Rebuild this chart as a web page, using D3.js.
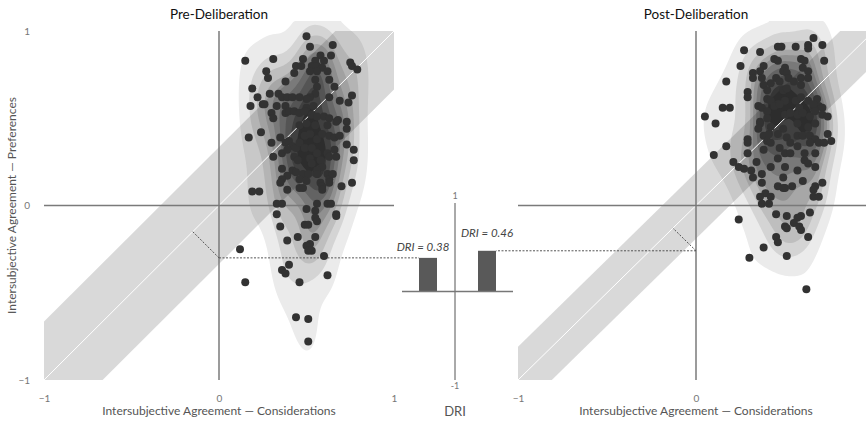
<!DOCTYPE html>
<html><head><meta charset="utf-8">
<script src="https://cdn.jsdelivr.net/npm/d3@7"></script>
<style>
html,body{margin:0;padding:0;background:#fff;}
svg{display:block;font-family:Lato,"Noto Sans",sans-serif;}
</style></head>
<body>
<script>
// ---------- data ----------
const panelTitles = ["Pre-Deliberation", "Post-Deliberation"];
const xAxisTitle = "Intersubjective Agreement — Considerations";
const yAxisTitle = "Intersubjective Agreement — Preferences";
const tickValues = [-1, 0, 1];
const driCategories = ["Pre", "Post"];
const driValues = [0.38, 0.46];
const bandHalfWidth = [0.335, 0.19];

const prePoints = [
[0.50,0.97],[0.52,0.91],[0.65,0.92],[0.15,0.83],[0.31,0.84],[0.58,0.86],[0.64,0.86],[0.55,0.83],[0.48,0.84],[0.60,0.83],
[0.75,0.82],[0.76,0.80],[0.79,0.78],[0.27,0.77],[0.28,0.73],[0.44,0.80],[0.47,0.80],[0.53,0.80],[0.56,0.80],[0.59,0.79],
[0.62,0.77],[0.43,0.76],[0.52,0.77],[0.56,0.77],[0.55,0.72],[0.38,0.71],[0.63,0.72],[0.66,0.68],[0.19,0.67],[0.56,0.68],
[0.55,0.64],[0.52,0.62],[0.50,0.61],[0.22,0.62],[0.25,0.58],[0.26,0.58],[0.18,0.57],[0.29,0.64],[0.34,0.64],[0.36,0.62],
[0.39,0.62],[0.42,0.62],[0.46,0.62],[0.63,0.62],[0.69,0.60],[0.74,0.59],[0.76,0.63],[0.50,0.56],[0.54,0.57],[0.33,0.57],
[0.38,0.57],[0.30,0.53],[0.38,0.53],[0.40,0.54],[0.43,0.54],[0.46,0.53],[0.49,0.54],[0.53,0.52],[0.56,0.51],[0.60,0.51],
[0.63,0.50],[0.68,0.49],[0.31,0.50],
[0.17,0.39],[0.24,0.42],[0.30,0.36],[0.35,0.39],[0.38,0.36],[0.40,0.37],[0.42,0.34],[0.44,0.33],[0.46,0.36],
[0.46,0.46],[0.50,0.47],[0.55,0.46],[0.62,0.46],[0.67,0.48],[0.73,0.48],
[0.49,0.40],[0.52,0.41],[0.56,0.38],[0.59,0.41],[0.63,0.40],[0.66,0.39],[0.69,0.40],[0.73,0.44],
[0.73,0.35],[0.77,0.32],
[0.49,0.33],[0.53,0.33],[0.56,0.30],[0.62,0.30],[0.66,0.32],[0.67,0.28],[0.63,0.28],
[0.31,0.28],[0.36,0.30],[0.39,0.32],[0.43,0.28],[0.45,0.26],
[0.52,0.27],[0.53,0.24],[0.58,0.26],[0.59,0.22],[0.56,0.20],
[0.77,0.26],[0.76,0.13],[0.70,0.11],
[0.36,0.21],[0.42,0.20],[0.39,0.17],[0.36,0.15],[0.44,0.19],[0.48,0.18],[0.51,0.18],[0.46,0.15],[0.50,0.14],
[0.56,0.18],[0.62,0.18],[0.63,0.15],[0.58,0.13],[0.59,0.11],[0.63,0.13],[0.65,0.18],
[0.35,0.13],[0.39,0.09],[0.46,0.10],[0.48,0.10],[0.59,0.09],
[0.19,0.08],[0.23,0.08],
[0.33,0.01],[0.36,0.01],[0.56,0.01],[0.62,0.01],[0.64,0.01],
[0.50,-0.02],[0.55,-0.03],[0.67,-0.05],[0.33,-0.05],
[0.55,-0.07],[0.56,-0.09],[0.67,-0.06],[0.35,-0.12],[0.49,-0.11],[0.51,-0.11],[0.39,-0.20],[0.45,-0.18],[0.55,-0.18],
[0.52,-0.22],[0.50,-0.23],[0.51,-0.26],[0.53,-0.26],[0.60,-0.29],[0.12,-0.25],[0.40,-0.34],[0.36,-0.37],[0.38,-0.39],
[0.15,-0.44],[0.46,-0.44],[0.62,-0.40],[0.44,-0.64],[0.51,-0.65],[0.51,-0.78]
];

const postPoints = [
[0.66,0.96],[0.63,0.92],[0.63,0.90],[0.71,0.92],[0.46,0.91],[0.48,0.91],[0.56,0.91],[0.27,0.89],[0.36,0.88],[0.72,0.83],
[0.44,0.84],[0.46,0.83],[0.59,0.84],[0.61,0.83],[0.25,0.80],[0.38,0.80],[0.50,0.79],[0.60,0.79],[0.63,0.77],[0.32,0.76],
[0.36,0.77],[0.49,0.77],[0.51,0.76],[0.32,0.73],[0.37,0.73],[0.45,0.73],[0.52,0.73],[0.59,0.73],[0.63,0.73],[0.17,0.71],
[0.42,0.70],[0.47,0.71],[0.55,0.71],[0.59,0.69],[0.38,0.69],[0.40,0.66],[0.49,0.66],[0.51,0.67],[0.29,0.65],[0.29,0.62],
[0.40,0.61],[0.42,0.60],[0.46,0.58],[0.50,0.60],[0.56,0.60],[0.59,0.62],[0.63,0.60],[0.68,0.61],[0.69,0.57],[0.35,0.57],
[0.37,0.56],[0.40,0.54],[0.44,0.57],[0.47,0.58],[0.58,0.56],[0.66,0.56],[0.66,0.58],[0.71,0.56],[0.15,0.56],[0.19,0.56],
[0.05,0.51],[0.11,0.47],[0.50,0.52],[0.53,0.53],[0.57,0.52],[0.60,0.53],[0.64,0.51],[0.67,0.54],[0.71,0.52],[0.74,0.51],
[0.36,0.48],[0.40,0.50],
[0.36,0.47],[0.35,0.44],[0.42,0.45],[0.49,0.44],[0.57,0.47],[0.63,0.45],[0.67,0.47],
[0.38,0.40],[0.41,0.41],[0.46,0.41],[0.51,0.39],[0.57,0.40],[0.60,0.40],[0.64,0.40],[0.67,0.38],[0.74,0.41],[0.76,0.37],
[0.29,0.38],[0.29,0.36],[0.40,0.37],[0.42,0.36],[0.47,0.33],[0.53,0.36],[0.57,0.34],[0.64,0.36],[0.69,0.36],[0.72,0.36],
[0.17,0.34],[0.10,0.29],
[0.29,0.30],[0.38,0.32],[0.50,0.30],[0.53,0.30],[0.61,0.30],[0.67,0.30],
[0.46,0.27],[0.61,0.26],[0.63,0.24],[0.34,0.25],
[0.21,0.25],[0.24,0.22],[0.27,0.21],[0.31,0.20],
[0.42,0.22],[0.50,0.22],[0.57,0.20],[0.67,0.22],
[0.32,0.16],[0.37,0.18],[0.37,0.13],
[0.49,0.16],[0.60,0.14],[0.46,0.11],[0.49,0.10],[0.50,0.10],[0.54,0.11],
[0.67,0.11],[0.71,0.13],[0.66,0.09],
[0.39,0.07],[0.36,0.05],[0.42,0.05],[0.37,0.01],[0.41,0.01],
[0.66,0.05],[0.69,0.05],
[0.45,-0.05],[0.51,-0.06],[0.59,-0.06],[0.64,-0.04],
[0.24,-0.08],[0.57,-0.07],[0.50,-0.12],[0.51,-0.13],[0.55,-0.10],[0.58,-0.12],[0.59,-0.14],[0.63,-0.18],[0.45,-0.18],
[0.46,-0.21],[0.38,-0.24],[0.30,-0.30],[0.51,-0.29],[0.62,-0.48]
];

// ---------- layout ----------
const W = 866, H = 425;
const FONT = "Lato,'Noto Sans',sans-serif";
const svg = d3.select("body").append("svg").attr("width", W).attr("height", H);

const panels = [
  {pts: prePoints, x: d3.scaleLinear([-1, 1], [44, 394]), y: d3.scaleLinear([-1, 1], [380, 31]), showY: true},
  {pts: postPoints, x: d3.scaleLinear([-1, 1], [518, 874]), y: d3.scaleLinear([-1, 1], [380, 31]), showY: false}
];

const yM = d3.scaleLinear([-1, 1], [380, 203]);
const xM = d3.scalePoint(driCategories, [428, 487]);
const barW = 18;

// iso-proportion (probability mass) levels, as in seaborn kdeplot: 10 levels, thresh 0.05
const levelProps = d3.range(10).map(i => 0.05 + i * (0.95 / 9)).slice(0, 9);
const levelColor = d3.scaleLinear([0, levelProps.length - 1], ["#ebebeb", "#353535"]);

function densityLayers(pts, xs, ys) {
  const n = pts.length;
  const f = Math.pow(n, -1 / 6);
  const bx = f * d3.deviation(pts, d => d[0]);
  const by = f * d3.deviation(pts, d => d[1]);
  const kde = (x, y) => {
    let s = 0;
    for (const p of pts) {
      const dx = (x - p[0]) / bx, dy = (y - p[1]) / by;
      s += Math.exp(-0.5 * (dx * dx + dy * dy));
    }
    return s;
  };
  const cell = 2;
  const x0 = xs(-1) - 10, y0 = ys(1) - 10;
  const nx = Math.ceil((xs(1) - xs(-1) + 20) / cell), ny = Math.ceil((ys(-1) - ys(1) + 20) / cell);
  const values = new Float64Array(nx * ny);
  for (let j = 0; j < ny; j++) {
    const yy = ys.invert(y0 + j * cell);
    for (let i = 0; i < nx; i++) {
      values[j * nx + i] = kde(xs.invert(x0 + i * cell), yy);
    }
  }
  const sortedDesc = Array.from(values).sort((a, b) => b - a);
  const total = d3.sum(sortedDesc);
  const cum = d3.cumsum(sortedDesc).map(v => v / total);
  const thresholds = levelProps.map(p => {
    const idx = Math.min(d3.bisectLeft(cum, 1 - p), sortedDesc.length - 1);
    return sortedDesc[idx];
  });
  const layers = d3.contours().size([nx, ny]).thresholds(thresholds)(values);
  const proj = d3.geoTransform({
    point: function (px, py) { this.stream.point(x0 + px * cell, y0 + py * cell); }
  });
  return {layers, path: d3.geoPath(proj)};
}

panels.forEach((p, i) => {
  const g = svg.append("g");
  const {layers, path} = densityLayers(p.pts, p.x, p.y);
  g.append("g").selectAll("path").data(layers).join("path")
    .attr("d", path)
    .attr("fill", (d, j) => levelColor(j))
    .attr("stroke", "none");

  const w = bandHalfWidth[i];
  const band = [[-1, -1], [-1, -1 + w], [1 - w, 1], [1, 1], [1, 1 - w], [-1 + w, -1]];
  g.append("path")
    .attr("d", d3.line().x(d => p.x(d[0])).y(d => p.y(d[1]))(band) + "Z")
    .attr("fill", "#000").attr("fill-opacity", 0.15);

  g.append("line")
    .attr("x1", p.x(-1)).attr("y1", p.y(-1)).attr("x2", p.x(1)).attr("y2", p.y(1))
    .attr("stroke", "#fff").attr("stroke-width", 1);

  g.append("line").attr("x1", p.x(-1)).attr("x2", p.x(1)).attr("y1", p.y(0)).attr("y2", p.y(0))
    .attr("stroke", "#7a7a7a").attr("stroke-width", 1.5);
  g.append("line").attr("x1", p.x(0)).attr("x2", p.x(0)).attr("y1", p.y(-1)).attr("y2", p.y(1))
    .attr("stroke", "#7a7a7a").attr("stroke-width", 1.5);

  const barTop = yM(driValues[i]);
  const yv = p.y.invert(barTop);
  const barEdge = i === 0 ? xM(driCategories[0]) - barW / 2 : xM(driCategories[1]) + barW / 2;
  g.append("line").attr("x1", p.x(0)).attr("x2", barEdge).attr("y1", barTop).attr("y2", barTop)
    .attr("stroke", "#555").attr("stroke-width", 1).attr("stroke-dasharray", "2,1.5");
  g.append("line").attr("x1", p.x(0)).attr("y1", barTop).attr("x2", p.x(yv / 2)).attr("y2", p.y(yv / 2))
    .attr("stroke", "#555").attr("stroke-width", 1).attr("stroke-dasharray", "2,1.5");

  g.append("g").selectAll("circle").data(p.pts).join("circle")
    .attr("cx", d => p.x(d[0])).attr("cy", d => p.y(d[1])).attr("r", 4)
    .attr("fill", "#323232");

  const visibleTicks = tickValues.filter(v => p.x(v) < W - 4);
  const ax = g.append("g").attr("transform", `translate(0,392)`)
    .call(d3.axisBottom(p.x).tickValues(visibleTicks).tickSize(0).tickPadding(3).tickFormat(d3.format("d")));
  ax.select(".domain").remove();
  ax.selectAll("text").attr("fill", "#777").attr("font-size", 10).attr("font-family", FONT);

  if (p.showY) {
    const ay = g.append("g").attr("transform", `translate(32,0)`)
      .call(d3.axisLeft(p.y).tickValues(tickValues).tickSize(0).tickPadding(2).tickFormat(d3.format("d")));
    ay.select(".domain").remove();
    ay.selectAll("text").attr("fill", "#777").attr("font-size", 10).attr("font-family", FONT);
    g.append("text")
      .attr("transform", `translate(16,${p.y(0)}) rotate(-90)`)
      .attr("text-anchor", "middle").attr("fill", "#555").attr("font-size", 12)
      .text(yAxisTitle);
  }

  g.append("text").attr("x", p.x(0)).attr("y", 19).attr("text-anchor", "middle")
    .attr("fill", "#111").attr("font-size", 13.5)
    .text(panelTitles[i]);
  g.append("text").attr("x", p.x(0)).attr("y", 415).attr("text-anchor", "middle")
    .attr("fill", "#555").attr("font-size", 12)
    .text(xAxisTitle);
});

// ---------- middle DRI chart ----------
const gm = svg.append("g");
gm.append("line").attr("x1", 455).attr("x2", 455).attr("y1", yM(1)).attr("y2", yM(-1))
  .attr("stroke", "#555").attr("stroke-width", 1);
gm.selectAll("rect").data(driValues).join("rect")
  .attr("x", (d, i) => xM(driCategories[i]) - barW / 2)
  .attr("y", d => yM(d))
  .attr("width", barW)
  .attr("height", d => yM(0) - yM(d))
  .attr("fill", "#595959");
gm.append("line").attr("x1", 402).attr("x2", 513).attr("y1", yM(0)).attr("y2", yM(0))
  .attr("stroke", "#777").attr("stroke-width", 1.5);
const labelDx = [-5, 0], labelDy = [-7, -14];
gm.selectAll("text.dri").data(driValues).join("text").attr("class", "dri")
  .attr("x", (d, i) => xM(driCategories[i]) + labelDx[i])
  .attr("y", (d, i) => yM(d) + labelDy[i])
  .attr("text-anchor", "middle").attr("font-style", "italic").attr("font-size", 11.5).attr("fill", "#444")
  .text(d => "DRI = " + d3.format(".2f")(d));
gm.append("text").attr("x", 455).attr("y", yM(1) - 4).attr("text-anchor", "middle")
  .attr("font-size", 9).attr("fill", "#777").text("1");
gm.append("text").attr("x", 455).attr("y", yM(-1) + 9).attr("text-anchor", "middle")
  .attr("font-size", 9).attr("fill", "#777").text("-1");
gm.append("text").attr("x", 455).attr("y", 416).attr("text-anchor", "middle")
  .attr("font-size", 13).attr("fill", "#555").text("DRI");
</script>
</body></html>
